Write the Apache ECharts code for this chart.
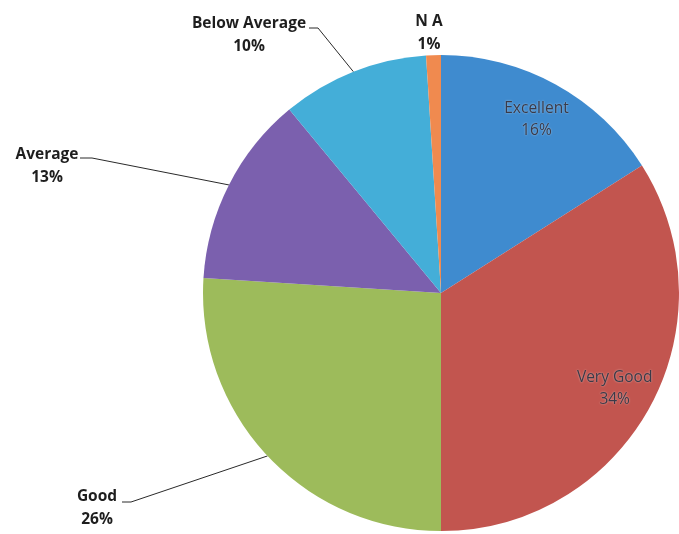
<!DOCTYPE html>
<html>
<head>
<meta charset="utf-8">
<script src="https://cdn.jsdelivr.net/npm/echarts@6/dist/echarts.min.js"></script>
<style>
html,body{margin:0;padding:0;background:#fff;}
#c{width:679px;height:534px;}
</style>
</head>
<body>
<div id="c"></div>
<script>
const categories = ['Excellent', 'Very Good', 'Good', 'Average', 'Below Average', 'N A'];
const values = [16, 34, 26, 13, 10, 1];
const colors = ['#3f8bcf', '#c2554f', '#9dbb5b', '#7b60ae', '#44aed8', '#f08a4f'];
const insideLabelled = ['Excellent', 'Very Good'];

// label placement (styling / layout, not data)
const outsideLayout = {
  'Good':          { x: 97,  y: 508, bend: [131, 502], end: [122, 502] },
  'Average':       { x: 47,  y: 166, bend: [92, 158],  end: [80, 158] },
  'Below Average': { x: 249, y: 35,  bend: [318, 28],  end: [309, 28] },
  'N A':           { x: 429, y: 33,  bend: null,       end: null }
};

const chart = echarts.init(document.getElementById('c'), null, { renderer: 'canvas' });
const R = 238;
const center = [441, 293];

const mainData = categories.map((name, i) => {
  const isIn = insideLabelled.includes(name);
  return {
    name: name,
    value: values[i],
    itemStyle: { color: colors[i] },
    label: { show: !isIn },
    labelLine: { show: !isIn && outsideLayout[name] && outsideLayout[name].bend !== null }
  };
});

const innerData = categories.map((name, i) => ({
  name: name,
  value: values[i],
  label: { show: insideLabelled.includes(name) }
}));

chart.setOption({
  backgroundColor: '#ffffff',
  animation: false,
  series: [
    {
      type: 'pie',
      radius: [0, R],
      center: center,
      startAngle: 90,
      clockwise: true,
      avoidLabelOverlap: false,
      data: mainData,
      itemStyle: { borderWidth: 0.5, borderColor: 'rgba(0,0,0,0)' },
      label: {
        position: 'outside',
        formatter: '{b}\n{d}%',
        fontFamily: 'Open Sans',
        fontWeight: 'bold',
        fontSize: 15.5,
        lineHeight: 23,
        color: '#1e1e1e',
        align: 'center'
      },
      labelLine: {
        lineStyle: { color: '#2a2a2a', width: 1 }
      },
      labelLayout: function (params) {
        const name = categories[params.dataIndex];
        const L = outsideLayout[name];
        if (!L) return {};
        const out = { x: L.x, y: L.y, align: 'center', verticalAlign: 'middle' };
        if (L.bend && params.labelLinePoints) {
          out.labelLinePoints = [params.labelLinePoints[0], L.bend, L.end];
        }
        return out;
      }
    },
    {
      type: 'pie',
      radius: [R * 0.64, R],
      center: center,
      startAngle: 90,
      clockwise: true,
      silent: true,
      data: innerData,
      itemStyle: { color: 'rgba(0,0,0,0)', borderWidth: 0 },
      label: {
        position: 'inside',
        formatter: '{b}\n{d}%',
        fontFamily: 'Open Sans',
        fontSize: 15.5,
        lineHeight: 22,
        color: '#3a3a48',
        textShadowColor: 'rgba(255,255,255,0.55)',
        textShadowBlur: 2
      },
      labelLine: { show: false }
    }
  ]
});
</script>
</body>
</html>
